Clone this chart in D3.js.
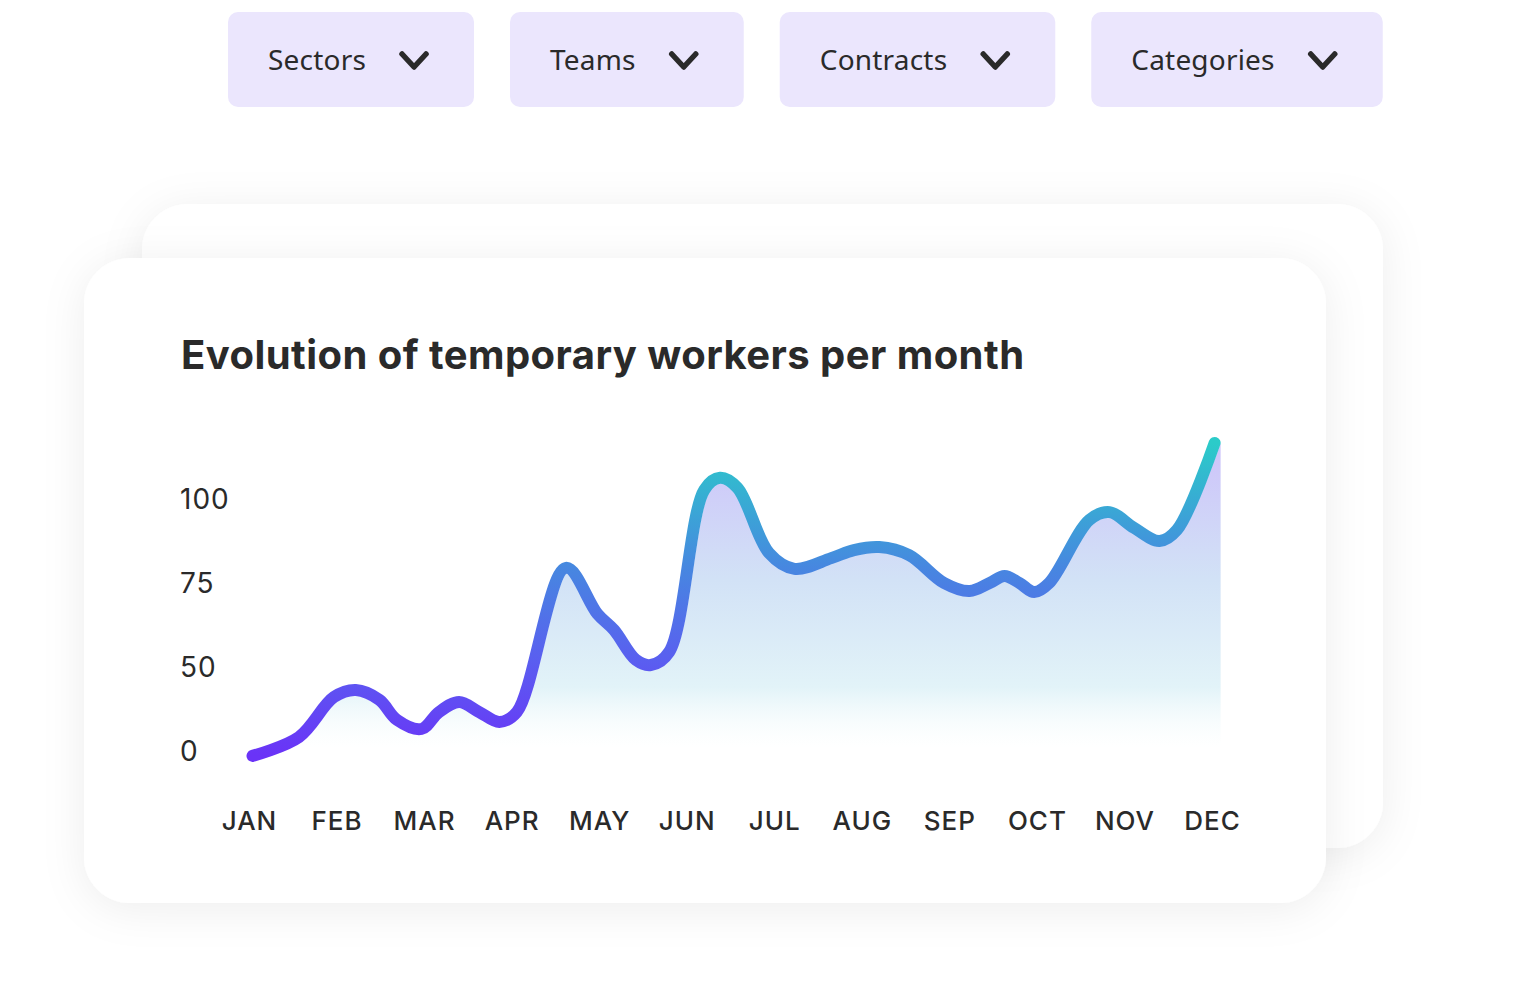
<html>
<head>
<title>Temporary workers</title>
<script src="https://cdn.jsdelivr.net/npm/d3@7"></script>
<style>
  body { margin: 0; background: #fff; }
</style>
</head>
<body>
<div id="chart"></div>
<script>
// Data
var filters = ["Sectors", "Teams", "Contracts", "Categories"];
var months = ["JAN", "FEB", "MAR", "APR", "MAY", "JUN", "JUL", "AUG", "SEP", "OCT", "NOV", "DEC"];
var yTicks = [0, 50, 75, 100];
// month position (fractional month index) and value
var monthPos = [0.04, 0.57, 0.97, 1.22, 1.49, 1.69, 1.97, 2.17, 2.40, 2.63, 2.86, 3.06,
  3.62, 3.98, 4.17, 4.42, 4.59, 4.80, 5.20, 5.38, 5.58, 5.94, 6.23, 6.65, 6.91, 7.20,
  7.54, 7.94, 8.23, 8.46, 8.63, 8.80, 8.97, 9.14, 9.60, 9.83, 10.11, 10.40, 10.60, 11.03];
var workers = [-3.5, 7.7, 31.5, 35.7, 29.8, 17.9, 12.5, 22.6, 28.6, 22.6, 16.7, 22.6,
  79.2, 65.5, 60.7, 51.8, 50.3, 54.2, 102.4, 106, 103, 83.6, 78.9, 82.1, 84.5, 85.4,
  83, 74.7, 72.3, 74.7, 76.8, 74.7, 72, 74.7, 93.5, 95.8, 91.1, 87.2, 90.5, 116.4];

var W = 1515, H = 999;
var ink = "#2a2a2a";

var svg = d3.select("#chart").append("svg")
  .attr("width", W)
  .attr("height", H);

var defs = svg.append("defs");

var shadow = defs.append("filter")
  .attr("id", "shadow")
  .attr("x", "-20%").attr("y", "-30%")
  .attr("width", "140%").attr("height", "160%");
shadow.append("feDropShadow")
  .attr("dx", 0).attr("dy", 6)
  .attr("stdDeviation", 22)
  .attr("flood-color", "#000")
  .attr("flood-opacity", 0.07);

// Filter buttons
var bx = 228;
filters.forEach(function(f) {
  var g = svg.append("g");
  var rect = g.append("rect")
    .attr("x", bx).attr("y", 12)
    .attr("height", 95)
    .attr("rx", 10)
    .attr("fill", "#ebe6fd");
  var t = g.append("text")
    .attr("x", bx + 40)
    .attr("y", 70)
    .attr("font-family", "Noto Sans")
    .attr("font-size", "28px")
    .attr("letter-spacing", "0.2px")
    .attr("fill", ink)
    .text(f);
  var tw = t.node().getComputedTextLength();
  var cx = bx + 40 + tw + 34;
  g.append("path")
    .attr("d", "M" + (cx + 2) + ",54 L" + (cx + 14) + ",67 L" + (cx + 26) + ",54")
    .attr("fill", "none")
    .attr("stroke", ink)
    .attr("stroke-width", 5.5)
    .attr("stroke-linecap", "round")
    .attr("stroke-linejoin", "round");
  var bw = 40 + tw + 34 + 28 + 46;
  rect.attr("width", bw);
  bx += bw + 36;
});

// Cards
svg.append("rect")
  .attr("x", 142).attr("y", 204)
  .attr("width", 1241).attr("height", 644)
  .attr("rx", 46)
  .attr("fill", "#fff")
  .attr("filter", "url(#shadow)");
svg.append("rect")
  .attr("x", 84).attr("y", 258)
  .attr("width", 1242).attr("height", 645)
  .attr("rx", 46)
  .attr("fill", "#fff")
  .attr("filter", "url(#shadow)");

// Title
svg.append("text")
  .attr("x", 181)
  .attr("y", 369)
  .attr("font-family", "Inter")
  .attr("font-weight", 700)
  .attr("font-size", "40px")
  .attr("letter-spacing", "0.45px")
  .attr("fill", ink)
  .text("Evolution of temporary workers per month");

// Scales
var x = d3.scaleLinear().domain([0, months.length - 1]).range([249, 1212]);
var y = d3.scaleLinear().domain(yTicks).range([750, 666, 582, 498]);

var pts = monthPos.map(function(m, i) { return {m: m, v: workers[i]}; });

// Gradients
var lineGrad = defs.append("linearGradient")
  .attr("id", "lineGrad")
  .attr("gradientUnits", "userSpaceOnUse")
  .attr("x1", 0).attr("x2", 0)
  .attr("y1", y(-3)).attr("y2", y(116.4));
lineGrad.append("stop").attr("offset", 0).attr("stop-color", "#6a33f7");
lineGrad.append("stop").attr("offset", 0.3).attr("stop-color", "#5a5ef0");
lineGrad.append("stop").attr("offset", 0.6).attr("stop-color", "#4787e0");
lineGrad.append("stop").attr("offset", 1).attr("stop-color", "#2bcbc9");

var areaGrad = defs.append("linearGradient")
  .attr("id", "areaGrad")
  .attr("gradientUnits", "userSpaceOnUse")
  .attr("x1", 0).attr("x2", 0)
  .attr("y1", y(116.4)).attr("y2", y(0) - 2);
areaGrad.append("stop").attr("offset", 0).attr("stop-color", "#cdc3fa");
areaGrad.append("stop").attr("offset", 0.45).attr("stop-color", "#d2e2f6");
areaGrad.append("stop").attr("offset", 0.8).attr("stop-color", "#e2f3f8");
areaGrad.append("stop").attr("offset", 1).attr("stop-color", "#f4fcfc").attr("stop-opacity", 0);

var curve = d3.curveCatmullRom.alpha(0.5);

var area = d3.area()
  .x(function(d) { return x(d.m); })
  .y0(y(0) - 2)
  .y1(function(d) { return y(d.v); })
  .curve(curve);

var line = d3.line()
  .x(function(d) { return x(d.m); })
  .y(function(d) { return y(d.v); })
  .curve(curve);

var plot = svg.append("g");
plot.append("path")
  .datum(pts)
  .attr("d", area)
  .attr("fill", "url(#areaGrad)")
  .attr("transform", "translate(6,0)");
plot.append("path")
  .datum(pts)
  .attr("d", line)
  .attr("fill", "none")
  .attr("stroke", "url(#lineGrad)")
  .attr("stroke-width", 12)
  .attr("stroke-linecap", "round")
  .attr("stroke-linejoin", "round");

// Y axis labels
var yAxis = svg.append("g")
  .attr("transform", "translate(180,0)")
  .call(d3.axisLeft(y).tickValues(yTicks).tickSize(0).tickPadding(0));
yAxis.select(".domain").remove();
yAxis.selectAll("text")
  .attr("text-anchor", "start")
  .attr("x", 0)
  .attr("dy", "0.36em")
  .attr("font-family", "Inter")
  .attr("font-size", "28px")
  .attr("letter-spacing", "1px")
  .attr("fill", ink);

// X axis labels
var xAxis = svg.append("g")
  .attr("transform", "translate(0,821)")
  .call(d3.axisBottom(x).tickValues(d3.range(months.length))
    .tickFormat(function(i) { return months[i]; })
    .tickSize(0).tickPadding(0));
xAxis.select(".domain").remove();
xAxis.selectAll("text")
  .attr("dy", "0.36em")
  .attr("font-family", "Inter")
  .attr("font-weight", 500)
  .attr("font-size", "26px")
  .attr("letter-spacing", "1px")
  .attr("fill", ink);
</script>
</body>
</html>
